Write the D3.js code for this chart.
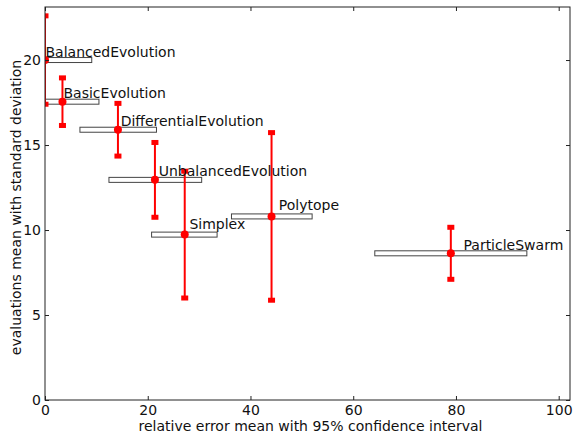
<!DOCTYPE html>
<html>
<head>
<meta charset="utf-8">
<title>Evaluations vs relative error</title>
<style>
body { margin: 0; background: #fff; }
svg { display: block; font-family: "DejaVu Sans", sans-serif; }
</style>
<script src="https://cdn.jsdelivr.net/npm/d3@7"></script>
</head>
<body>
<svg id="chart" width="573" height="436"></svg>
<script>
// data
const methods = ["BalancedEvolution", "BasicEvolution", "DifferentialEvolution",
                 "UnbalancedEvolution", "Simplex", "Polytope", "ParticleSwarm"];
const errMean = [0, 3.4, 14.2, 21.4, 27.2, 44.1, 79.0];
const ciLow   = [0, 0, 6.8, 12.45, 20.75, 36.3, 64.2];
const ciHigh  = [9.1, 10.5, 21.7, 30.5, 33.5, 52.0, 93.8];
const evalMean = [20.0, 17.55, 15.9, 12.95, 9.73, 10.8, 8.63];
const evalStd  = [2.6, 1.4, 1.55, 2.2, 3.73, 4.93, 1.53];
const xTicks = [0, 20, 40, 60, 80, 100];
const yTicks = [0, 5, 10, 15, 20];

const svg = d3.select("#chart");
const LEFT = 45, RIGHT = 570, TOP = 7, BOTTOM = 400;
const TICK = 4;

const x = d3.scaleLinear().domain([0, 102.2]).range([LEFT, RIGHT]);
const y = d3.scaleLinear().domain([0, 23.12]).range([BOTTOM, TOP]);

const rows = methods.map((m, i) => ({
    name: m, ex: errMean[i], lo: ciLow[i], hi: ciHigh[i],
    ey: evalMean[i], sd: evalStd[i]
}));

svg.append("clipPath").attr("id", "plot")
   .append("rect")
   .attr("x", LEFT).attr("y", TOP)
   .attr("width", RIGHT - LEFT).attr("height", BOTTOM - TOP);

const plot = svg.append("g").attr("clip-path", "url(#plot)");

// confidence interval boxes
plot.selectAll("rect.ci")
    .data(rows)
    .enter()
    .append("rect")
    .attr("class", "ci")
    .attr("x", d => x(d.lo))
    .attr("y", d => y(d.ey) - 2.5)
    .attr("width", d => x(d.hi) - x(d.lo))
    .attr("height", 5)
    .attr("fill", "#fff")
    .attr("stroke", "#444")
    .attr("stroke-width", 1);

// labels (bottom of text box sits on the point, like va='bottom')
svg.selectAll("text.lbl")
   .data(rows)
   .enter()
   .append("text")
   .attr("class", "lbl")
   .attr("x", d => x(d.ex * 1.03) + 0.5)
   .attr("y", d => y(d.ey) - (/[gjpqy]/.test(d.name) ? 6 : 3.5))
   .attr("font-size", 14)
   .attr("fill", "#111")
   .text(d => d.name);

// error bars
plot.selectAll("line.err")
    .data(rows)
    .enter()
    .append("line")
    .attr("class", "err")
    .attr("x1", d => x(d.ex)).attr("x2", d => x(d.ex))
    .attr("y1", d => y(d.ey - d.sd)).attr("y2", d => y(d.ey + d.sd))
    .attr("stroke", "#f00")
    .attr("stroke-width", 2);

const caps = rows.flatMap(d => [{ex: d.ex, v: d.ey - d.sd}, {ex: d.ex, v: d.ey + d.sd}]);
plot.selectAll("rect.cap")
    .data(caps)
    .enter()
    .append("rect")
    .attr("class", "cap")
    .attr("x", d => x(d.ex) - 3.5)
    .attr("y", d => y(d.v) - 2.5)
    .attr("width", 7)
    .attr("height", 5)
    .attr("fill", "#f00");

plot.selectAll("circle.pt")
    .data(rows)
    .enter()
    .append("circle")
    .attr("class", "pt")
    .attr("cx", d => x(d.ex))
    .attr("cy", d => y(d.ey))
    .attr("r", 4)
    .attr("fill", "#f00");

// frame
svg.append("rect")
   .attr("x", LEFT).attr("y", TOP)
   .attr("width", RIGHT - LEFT).attr("height", BOTTOM - TOP)
   .attr("fill", "none").attr("stroke", "#222").attr("stroke-width", 1);

// inward ticks on all four sides
const xAxisB = d3.axisBottom(x).tickValues(xTicks).tickSizeInner(-TICK).tickSizeOuter(0).tickPadding(5);
const xAxisT = d3.axisTop(x).tickValues(xTicks).tickSizeInner(-TICK).tickSizeOuter(0).tickFormat("");
const yAxisL = d3.axisLeft(y).tickValues(yTicks).tickSizeInner(-TICK).tickSizeOuter(0).tickPadding(4);
const yAxisR = d3.axisRight(y).tickValues(yTicks).tickSizeInner(-TICK).tickSizeOuter(0).tickFormat("");

function styleAxis(g) {
    g.select(".domain").remove();
    g.selectAll("line").attr("stroke", "#222");
    g.selectAll("text").attr("font-size", 14).attr("font-family", "DejaVu Sans").attr("fill", "#111");
}

svg.append("g").attr("transform", `translate(0,${BOTTOM})`).call(xAxisB).call(styleAxis);
svg.append("g").attr("transform", `translate(0,${TOP})`).call(xAxisT).call(styleAxis);
svg.append("g").attr("transform", `translate(${LEFT},0)`).call(yAxisL).call(styleAxis);
svg.append("g").attr("transform", `translate(${RIGHT},0)`).call(yAxisR).call(styleAxis);

// axis titles
svg.append("text")
   .attr("x", (LEFT + RIGHT) / 2 + 3).attr("y", 431)
   .attr("text-anchor", "middle")
   .attr("font-size", 14).attr("fill", "#111")
   .text("relative error mean with 95% confidence interval");

svg.append("text")
   .attr("transform", `translate(21,${(TOP + BOTTOM) / 2 + 4}) rotate(-90)`)
   .attr("text-anchor", "middle")
   .attr("font-size", 14).attr("fill", "#111")
   .text("evaluations mean with standard deviation");
</script>
</body>
</html>
